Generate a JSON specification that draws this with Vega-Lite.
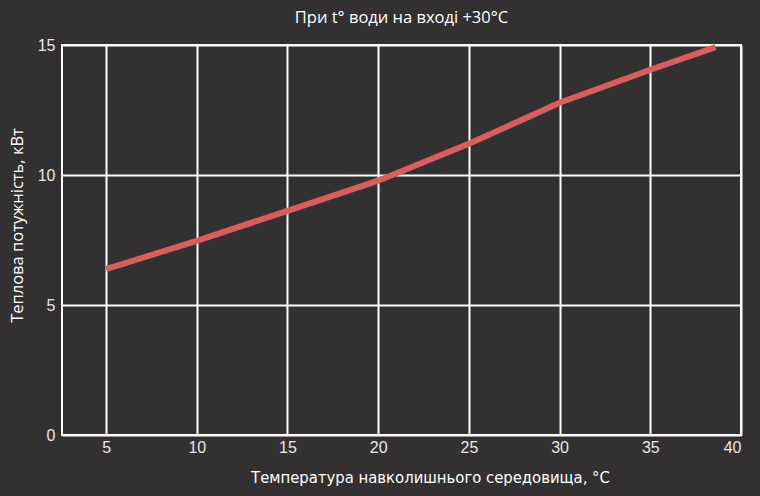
{
  "$schema": "https://vega.github.io/schema/vega-lite/v6.json",
  "autosize": {"type": "none"},
  "width": 679,
  "height": 390,
  "padding": {"left": 62, "top": 45, "right": 19, "bottom": 61},
  "background": "#323031",
  "title": {
    "text": "При t° води на вході +30°C",
    "font": "Open Sans",
    "fontSize": 16.5,
    "fontWeight": "normal",
    "color": "#ffffff",
    "anchor": "middle",
    "offset": 9
  },
  "data": {
    "values": [
      {"t": 5, "p": 6.38},
      {"t": 10, "p": 7.47},
      {"t": 15, "p": 8.62},
      {"t": 20, "p": 9.78},
      {"t": 25, "p": 11.2},
      {"t": 30, "p": 12.78},
      {"t": 35, "p": 14.05},
      {"t": 38.6, "p": 14.92}
    ]
  },
  "mark": {"type": "line", "color": "#d65f5b", "strokeWidth": 6, "strokeCap": "butt"},
  "encoding": {
    "x": {
      "field": "t",
      "type": "quantitative",
      "scale": {"domain": [2.57, 40], "nice": false, "zero": false},
      "axis": {
        "values": [5, 10, 15, 20, 25, 30, 35, 40],
        "title": "Температура навколишнього середовища, °C",
        "titleFont": "DejaVu Sans Condensed",
        "titleFontSize": 16.5,
        "titleFontWeight": "normal",
        "titleColor": "#ffffff",
        "titleX": 368,
        "titleY": 42,
        "titleBaseline": "middle",
        "labelFont": "Liberation Sans",
        "labelFontSize": 16,
        "labelColor": "#e8e8e8",
        "labelPadding": 4,
        "ticks": false,
        "domain": false,
        "gridColor": "#ffffff",
        "gridWidth": 2,
        "gridOpacity": 1
      }
    },
    "y": {
      "field": "p",
      "type": "quantitative",
      "scale": {"domain": [0, 15], "nice": false},
      "axis": {
        "values": [0, 5, 10, 15],
        "title": "Теплова потужність, кВт",
        "titleFont": "Open Sans",
        "titleFontSize": 16.5,
        "titleFontWeight": "normal",
        "titleColor": "#ffffff",
        "titleX": -45,
        "titleY": 180,
        "titleBaseline": "middle",
        "labelFont": "Liberation Sans",
        "labelFontSize": 16,
        "labelColor": "#e8e8e8",
        "labelPadding": 7,
        "ticks": false,
        "domain": false,
        "gridColor": "#ffffff",
        "gridWidth": 2,
        "gridOpacity": 1
      }
    }
  },
  "config": {
    "view": {"stroke": "#ffffff", "strokeWidth": 2}
  }
}
